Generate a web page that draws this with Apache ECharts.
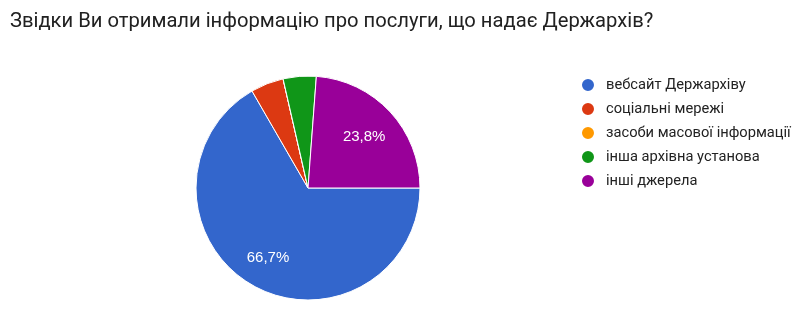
<!DOCTYPE html>
<html>
<head>
<meta charset="utf-8">
<script src="https://cdn.jsdelivr.net/npm/echarts@6/dist/echarts.min.js"></script>
<style>
  html, body { margin: 0; padding: 0; background: #fff; }
  #chart { width: 807px; height: 319px; }
</style>
</head>
<body>
<div id="chart"></div>
<script>
const titleText = 'Звідки Ви отримали інформацію про послуги, що надає Держархів?';
const categories = ['вебсайт Держархіву', 'соціальні мережі', 'засоби масової інформації', 'інша архівна установа', 'інші джерела'];
const values = [14, 1, 0, 1, 5];
const colors = ['#3366cc', '#dc3912', '#ff9900', '#109618', '#990099'];

const total = values.reduce((a, b) => a + b, 0);
const data = categories.map((name, i) => ({ name: name, value: values[i] }));

const chart = echarts.init(document.getElementById('chart'));

chart.setOption({
    animation: false,
    color: colors,
    title: {
        text: titleText,
        left: 5,
        top: 7,
        textStyle: {
            fontFamily: 'Roboto',
            fontSize: 20.2,
            fontWeight: 'normal',
            color: '#212121'
        }
    },
    legend: {
        orient: 'vertical',
        left: 575,
        top: 72,
        icon: 'circle',
        itemWidth: 26,
        itemHeight: 14,
        itemGap: 8,
        selectedMode: false,
        data: categories,
        textStyle: {
            fontFamily: 'Roboto',
            fontSize: 14.7,
            lineHeight: 16,
            color: '#222'
        }
    },
    series: [
        {
            type: 'pie',
            center: [308, 188],
            radius: [0, 112],
            startAngle: 0,
            clockwise: true,
            avoidLabelOverlap: false,
            data: data,
            itemStyle: { borderColor: '#fff', borderWidth: 1 },
            label: { show: false },
            labelLine: { show: false },
            emphasis: { disabled: true }
        },
        {
            // label carrier: same slices, no fill, labels sit at ~0.68 r
            type: 'pie',
            center: [308, 188],
            radius: [0, 150],
            startAngle: 0,
            clockwise: true,
            silent: true,
            avoidLabelOverlap: false,
            legendHoverLink: false,
            data: data,
            itemStyle: { color: 'rgba(0,0,0,0)', borderWidth: 0 },
            label: {
                show: true,
                position: 'inside',
                offset: [-1, 2],
                fontFamily: 'Arial',
                fontSize: 15,
                color: '#fff',
                formatter: function (p) {
                    const pct = p.value / total * 100;
                    if (pct < 10) return '';
                    return pct.toFixed(1).replace('.', ',') + '%';
                }
            },
            labelLine: { show: false },
            emphasis: { disabled: true }
        }
    ]
});
</script>
</body>
</html>
